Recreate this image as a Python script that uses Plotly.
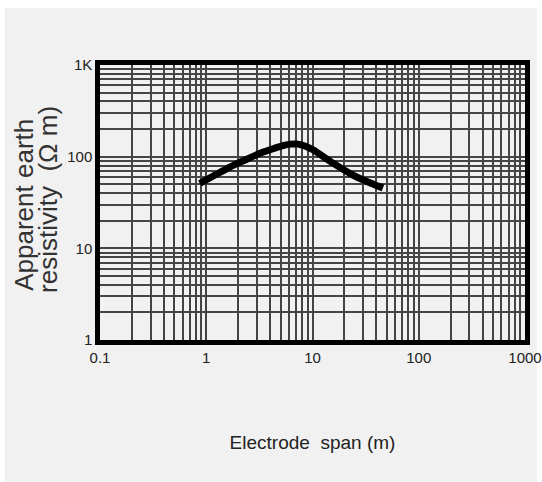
import plotly.graph_objects as go

# Data
span_m = [0.87, 1.21, 1.67, 2.32, 3.21, 4.43, 5.4, 6.2, 7.3, 8.6, 10.1, 15.6, 24, 32, 46]
resistivity = [51, 63, 77, 92, 109, 124, 133, 137, 137, 130, 119, 85, 63, 54, 45.5]

x_tickvals = [0.1, 1, 10, 100, 1000]
x_ticktext = ["0.1", "1", "10", "100", "1000"]
y_tickvals = [1, 10, 100, 1000]
y_ticktext = ["1", "10", "100", "1K"]
y_title_lines = ["Apparent earth", "resistivity  (Ω m)"]

FONT = "Liberation Sans, Arial, sans-serif"
GRID = "#454545"

fig = go.Figure()
fig.add_trace(go.Scatter(
    x=span_m, y=resistivity, mode="lines",
    line=dict(color="black", width=7, shape="spline", smoothing=1.0),
    showlegend=False, hoverinfo="skip",
))

axis_common = dict(
    type="log", showline=True, linecolor="black", linewidth=4.5, mirror=True,
    showgrid=True, gridcolor=GRID, gridwidth=1.7, zeroline=False,
    ticks="", tickfont=dict(family=FONT, size=15, color="#222"),
    ticklabeloverflow="allow", automargin=False,
    minor=dict(showgrid=True, gridcolor=GRID, gridwidth=1.7, dtick="D1", ticks=""),
)

fig.update_xaxes(
    **axis_common, range=[-1, 3], tickvals=x_tickvals, ticktext=x_ticktext,
    title=dict(text="Electrode  span (m)", font=dict(family=FONT, size=19, color="#222"), standoff=72),
)
fig.update_yaxes(
    **axis_common, range=[0, 3], tickvals=y_tickvals, ticktext=y_ticktext,
)

# two-line y axis title, tightly spaced as in the reference
for xpos, ypos, txt in [(-0.178, 0.493, y_title_lines[0]), (-0.122, 0.51, y_title_lines[1])]:
    fig.add_annotation(
        text=txt, xref="paper", yref="paper", x=xpos, y=ypos,
        xanchor="center", yanchor="middle", textangle=-90, showarrow=False,
        font=dict(family=FONT, size=26, color="#333"),
    )

# scanned-page grey background with a thin white margin
fig.add_shape(
    type="rect", xref="paper", yref="paper", layer="below",
    x0=-0.224, x1=1.028, y0=-0.52, y1=1.207,
    fillcolor="#f1f1f1", line=dict(width=0),
)

fig.update_layout(
    width=542, height=482,
    margin=dict(l=100, r=17, t=65, b=142),
    paper_bgcolor="white", plot_bgcolor="#f4f4f4",
)

fig.write_html("out.html")
